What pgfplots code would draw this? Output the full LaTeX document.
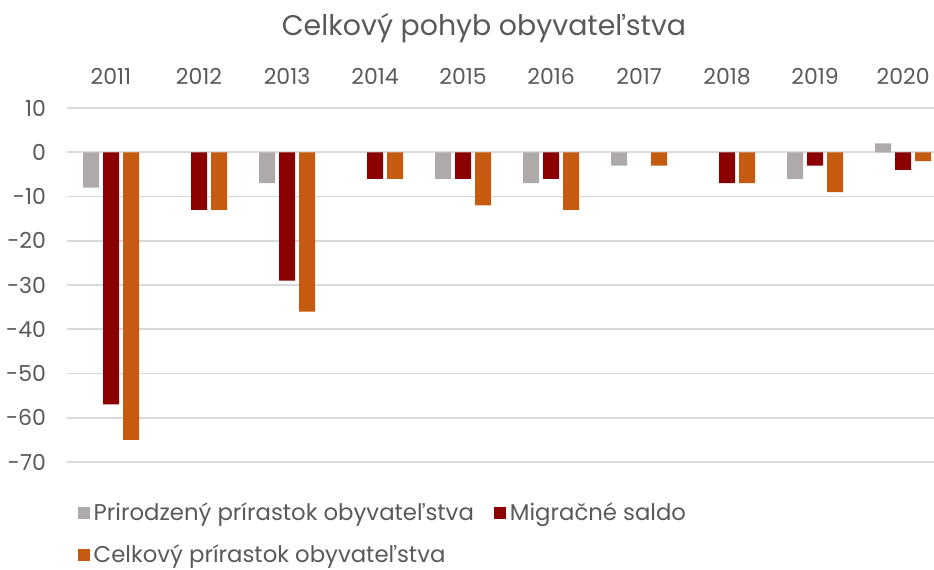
\documentclass[border=0pt]{standalone}
\usepackage{fontspec}
\setmainfont{Poppins}
\usepackage{pgfplots}
\pgfplotsset{compat=1.18}
\definecolor{cgrey}{HTML}{AEAAAA}
\definecolor{cred}{HTML}{8B0000}
\definecolor{corange}{HTML}{C55A11}
\definecolor{ctext}{HTML}{595959}
\definecolor{cgrid}{HTML}{D9D9D9}
\begin{document}
\begin{tikzpicture}
\useasboundingbox (0,0) rectangle (467pt,284.5pt);
\node[text=ctext, font=\fontsize{14.2}{16}\selectfont] at (242pt,270.5pt) {Celkový pohyb obyvateľstva};
\begin{axis}[
  at={(33.5pt,53.5pt)}, anchor=south west,
  scale only axis, width=433.5pt, height=177pt,
  xmin=-0.5, xmax=9.35, ymin=-70, ymax=10,
  axis line style={draw=none},
  major tick length=0,
  xtick={0,...,9},
  xticklabels={2011,2012,2013,2014,2015,2016,2017,2018,2019,2020},
  xticklabel pos=upper,
  xticklabel style={yshift=8pt},
  ytick={-70,-60,...,10},
  yticklabel style={xshift=-7pt},
  ymajorgrids,
  grid style={cgrid, line width=0.8pt},
  tick label style={text=ctext, font=\fontsize{11}{13}\selectfont},
  /pgf/number format/assume math mode=true,
  ybar, bar width=8pt,
  legend columns=2,
  legend style={at={(0.005,-0.091)}, anchor=north west, draw=none, fill=none,
    text=ctext, font=\fontsize{11.4}{13}\selectfont,
    /tikz/every even column/.append style={column sep=8pt},
    row sep=6.5pt},
  legend cell align=left,
  legend image code/.code={\fill[#1] (0pt,-3pt) rectangle (6pt,3pt);},
]
\addplot[fill=cgrey, draw=none, bar shift=-10pt] coordinates {
(0,-8) (2,-7) (4,-6) (5,-7) (6,-3) (8,-6) (9,2)};
\addplot[fill=cred, draw=none, bar shift=0pt] coordinates {
(0,-57) (1,-13) (2,-29) (3,-6) (4,-6) (5,-6) (7,-7) (8,-3) (9,-4)};
\addplot[fill=corange, draw=none, bar shift=10pt] coordinates {
(0,-65) (1,-13) (2,-36) (3,-6) (4,-12) (5,-13) (6,-3) (7,-7) (8,-9) (9,-2)};
\legend{Prirodzený prírastok obyvateľstva, Migračné saldo, Celkový prírastok obyvateľstva}
\end{axis}
\end{tikzpicture}
\end{document}
